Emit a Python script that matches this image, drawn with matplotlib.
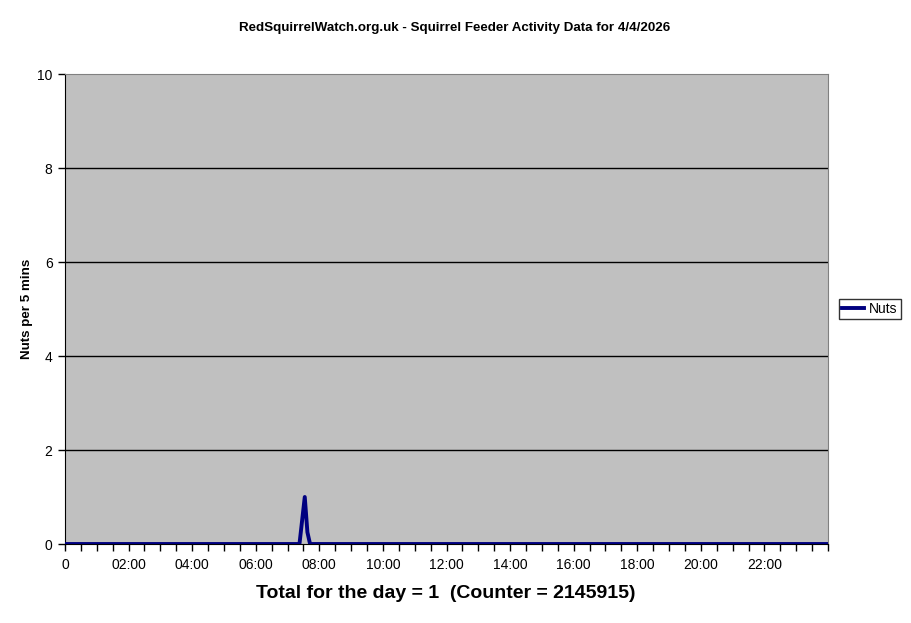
import numpy as np
import matplotlib
matplotlib.use("Agg")
import matplotlib.pyplot as plt
from matplotlib.ticker import MultipleLocator

plt.rcParams['font.family'] = ['Liberation Sans', 'DejaVu Sans']

# 5-minute slots over the day (288 slots), only non-zero slots listed
n_slots = 288
nonzero_slots = [89, 90, 91]
nonzero_values = [0.5, 1.0, 0.25]

hour_ticks = [0, 2, 4, 6, 8, 10, 12, 14, 16, 18, 20, 22]
hour_labels = ["0", "02:00", "04:00", "06:00", "08:00", "10:00",
               "12:00", "14:00", "16:00", "18:00", "20:00", "22:00"]
y_ticks = [0, 2, 4, 6, 8, 10]

title = "RedSquirrelWatch.org.uk - Squirrel Feeder Activity Data for 4/4/2026"
xlabel = "Total for the day = 1  (Counter = 2145915)"
ylabel = "Nuts per 5 mins"

nuts = np.zeros(n_slots)
nuts[nonzero_slots] = nonzero_values
slot_hours = (np.arange(n_slots) + 0.5) / 12.0

fig = plt.figure(figsize=(9.11, 6.23), dpi=100)
ax = fig.add_axes([65 / 911, 1 - 544 / 623, 763 / 911, 470 / 623])
ax.set_facecolor('#C0C0C0')

# horizontal gridlines
for y in y_ticks[1:-1]:
    ax.axhline(y, color='black', lw=1, zorder=1)

ax.plot(slot_hours, nuts, color='#000080', lw=2.8, label='Nuts', zorder=3)

ax.set_xlim(0, 24)
ax.set_ylim(0, 10)
ax.set_xticks(hour_ticks)
ax.set_xticklabels(hour_labels)
ax.xaxis.set_minor_locator(MultipleLocator(0.5))
ax.set_yticks(y_ticks)
ax.tick_params(axis='both', which='both', direction='out', length=5, width=1,
               labelsize=10, color='black')
ax.tick_params(axis='x', which='major', pad=5)
ax.tick_params(axis='y', which='major', pad=4)

for side in ['top', 'right']:
    ax.spines[side].set_color('#808080')
for side in ['left', 'bottom']:
    ax.spines[side].set_color('black')

fig.text(455 / 911, 1 - 28 / 623, title, ha='center', va='center',
         fontsize=9.6, fontweight='bold')
ax.set_xlabel(xlabel, fontsize=14, fontweight='bold')
ax.xaxis.set_label_coords((446 - 65) / 763, (544 - 593) / 470)
ax.xaxis.label.set_va('center')
ax.set_ylabel(ylabel, fontsize=9.6, fontweight='bold')
ax.yaxis.set_label_coords((27 - 65) / 763, 0.5)
ax.yaxis.label.set_va('center')

leg = ax.legend(loc='center left', bbox_to_anchor=(1.014, 0.5), frameon=True,
                fancybox=False, fontsize=10, handlelength=1.6,
                borderpad=0.25, handletextpad=0.3, borderaxespad=0)
leg.get_frame().set_edgecolor('black')
leg.get_frame().set_linewidth(1)

fig.savefig('out.png', dpi=100)
